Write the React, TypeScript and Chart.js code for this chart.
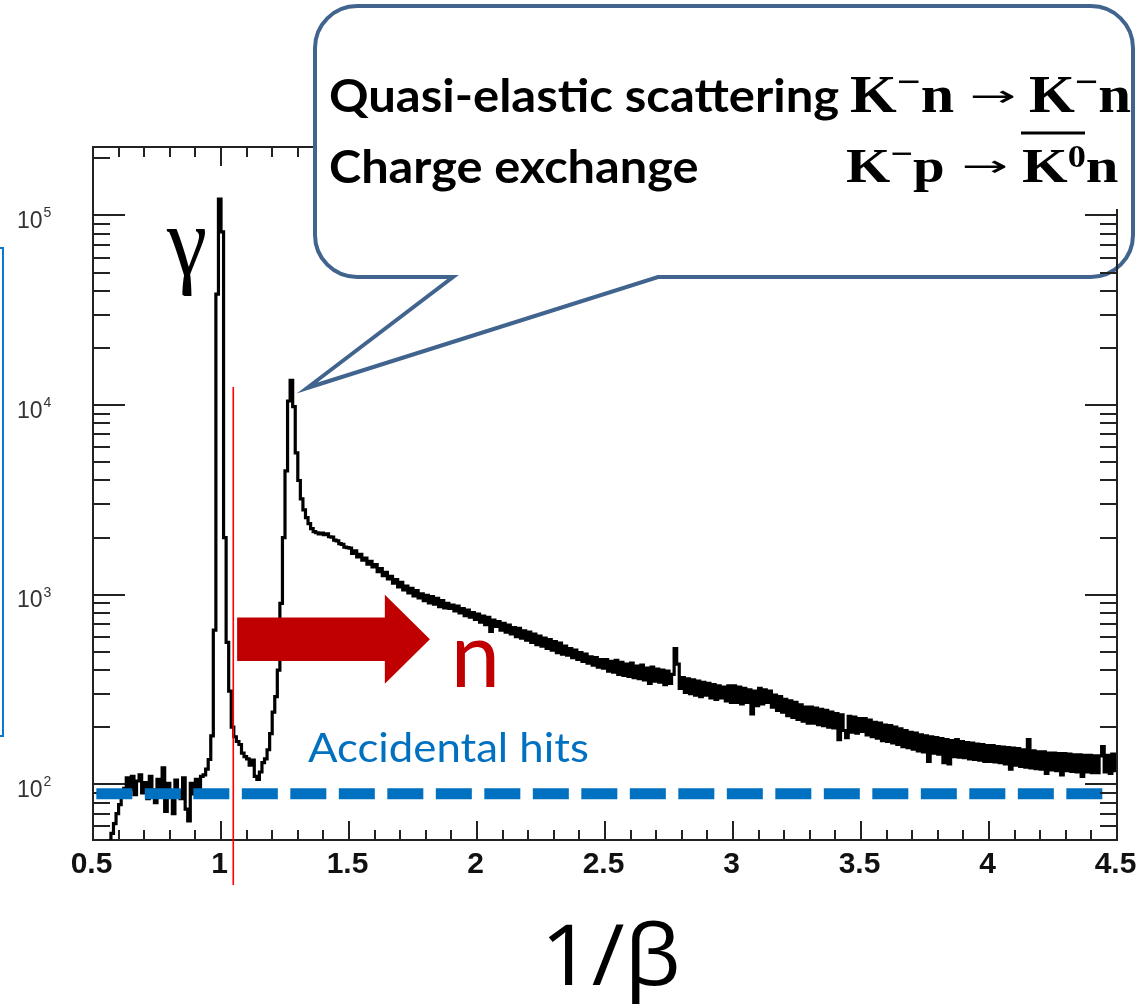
import React, { useEffect, useRef } from "react";
import { Chart, registerables } from "chart.js";

Chart.register(...registerables);

// ---------------- data (histogram of 1/beta, bin width 0.01) ----------------
const BIN_START = 0.5;
const BIN_WIDTH = 0.01;

// 0.50 – 0.99
const counts050 = [
  30, 32, 35, 38, 42, 46, 50, 55, 62, 70,
  78, 86, 95, 108, 94, 110, 88, 104, 112, 90,
  102, 84, 110, 93, 80, 106, 92, 122, 72, 101,
  90, 70, 105, 92, 84, 108, 74, 64, 101, 89,
  106, 94, 110, 112, 120, 135, 180, 650, 38500, 122000,
];
// 1.00 – 1.49
const counts100 = [
  82000, 2000, 560, 310, 200, 178, 168, 162, 146, 140,
  136, 126, 134, 110, 106, 116, 130, 136, 152, 185,
  240, 290, 400, 900, 2000, 4500, 10500, 13500, 9800, 5600,
  4000, 3200, 2800, 2550, 2370, 2230, 2150, 2120, 2090, 2110,
  2070, 2090, 2020, 2010, 1940, 1920, 1860, 1840, 1780, 1770,
];
// 1.50 – 1.99
const counts150 = [
  1760, 1650, 1700, 1580, 1630, 1520, 1560, 1450, 1500, 1400,
  1440, 1320, 1370, 1260, 1310, 1210, 1250, 1150, 1200, 1100,
  1160, 1060, 1110, 1020, 1080, 985, 1050, 960, 1010, 930,
  990, 905, 975, 890, 955, 865, 930, 850, 900, 845,
  880, 820, 870, 800, 845, 775, 830, 760, 805, 740,
];
// 2.00 – 2.49
const counts200 = [
  790, 715, 770, 695, 760, 640, 735, 680, 720, 650,
  705, 635, 690, 620, 670, 600, 665, 590, 645, 575,
  635, 560, 620, 545, 605, 535, 590, 520, 580, 510,
  565, 495, 555, 485, 535, 480, 520, 465, 510, 455,
  495, 445, 485, 435, 470, 425, 465, 415, 455, 410,
];
// 2.50 – 2.99
const counts250 = [
  455, 395, 445, 390, 450, 380, 440, 375, 430, 370,
  435, 365, 420, 360, 425, 355, 410, 340, 415, 350,
  405, 345, 400, 335, 395, 340, 380, 520, 430, 320,
  365, 305, 360, 300, 355, 295, 350, 290, 345, 295,
  340, 285, 335, 280, 330, 285, 325, 275, 330, 270,
];
// 3.00 – 3.49
const counts300 = [
  330, 270, 325, 265, 320, 270, 315, 235, 310, 260,
  320, 265, 315, 270, 310, 255, 295, 245, 290, 240,
  280, 230, 275, 225, 270, 220, 262, 215, 255, 210,
  255, 210, 252, 206, 248, 204, 245, 200, 240, 198,
  236, 172, 232, 192, 176, 228, 188, 226, 186, 222,
];
// 3.50 – 3.99
const counts350 = [
  190, 222, 182, 218, 178, 212, 175, 210, 170, 205,
  168, 204, 165, 200, 162, 196, 158, 192, 156, 188,
  153, 186, 150, 182, 148, 180, 132, 178, 146, 176,
  144, 174, 130, 172, 128, 170, 140, 172, 139, 168,
  138, 166, 136, 165, 135, 163, 134, 162, 132, 160,
];
// 4.00 – 4.49
const counts400 = [
  132, 160, 131, 158, 130, 157, 128, 156, 120, 155,
  126, 154, 124, 152, 123, 172, 122, 150, 121, 148,
  120, 148, 114, 146, 119, 146, 118, 145, 112, 145,
  118, 144, 117, 143, 116, 143, 110, 142, 116, 142,
  115, 141, 115, 141, 158, 116, 142, 114, 144, 118,
];

const X_MIN = 0.5;
const X_MAX = 4.5;
const Y_MIN = 50.8;
const Y_MAX = 229600;

const xMajorTicks = [0.5, 1, 1.5, 2, 2.5, 3, 3.5, 4, 4.5];
const xTickLabels = ["0.5", "1", "1.5", "2", "2.5", "3", "3.5", "4", "4.5"];
const yDecadeExponents = [2, 3, 4, 5];

// annotations (data coordinates)
const accidentalLevel = 89;
const accidentalFrom = 0.513;
const accidentalTo = 4.449;
const cutX = 1.048;
const cutLow = 29.4;
const cutHigh = 12460;
const arrowFrom = 1.063;
const arrowHeadBase = 1.64;
const arrowTip = 1.816;
const arrowLevel = 582;

// ---------------- fonts & helpers ----------------
const SANS = '"Lato", "Open Sans", sans-serif';
const GREEK_SANS = '"Open Sans", "Noto Sans", sans-serif';
const SERIF = '"Liberation Serif", "DejaVu Serif", serif';
const HELV = '"Liberation Sans", Arial, sans-serif';
const AXIS = "#222";

function fitLine(ctx: CanvasRenderingContext2D, text: string, weight: string, family: string,
  left: number, right: number, baseline: number, refH: number, refChar: string, color: string) {
  ctx.font = `${weight} 100px ${family}`;
  const ref = ctx.measureText(refChar).actualBoundingBoxAscent || 70;
  const size = (100 * refH) / ref;
  ctx.font = `${weight} ${size}px ${family}`;
  const m = ctx.measureText(text);
  const ink = m.actualBoundingBoxLeft + m.actualBoundingBoxRight;
  const sx = ink > 0 ? (right - left) / ink : 1;
  ctx.save();
  ctx.fillStyle = color;
  ctx.textAlign = "left";
  ctx.textBaseline = "alphabetic";
  ctx.translate(left, baseline);
  ctx.scale(sx, 1);
  ctx.fillText(text, m.actualBoundingBoxLeft, 0);
  ctx.restore();
}

function fitBox(ctx: CanvasRenderingContext2D, text: string, weight: string, family: string,
  left: number, top: number, right: number, bottom: number, color: string) {
  ctx.font = `${weight} 100px ${family}`;
  const m = ctx.measureText(text);
  const w = m.actualBoundingBoxLeft + m.actualBoundingBoxRight || 50;
  const h = m.actualBoundingBoxAscent + m.actualBoundingBoxDescent || 50;
  ctx.save();
  ctx.fillStyle = color;
  ctx.textAlign = "left";
  ctx.textBaseline = "alphabetic";
  ctx.translate(left, top);
  ctx.scale((right - left) / w, (bottom - top) / h);
  ctx.fillText(text, m.actualBoundingBoxLeft, m.actualBoundingBoxAscent);
  ctx.restore();
}

type Piece = { t: string; sup?: number; scale?: number; weight?: string; family?: string };

function fitRun(ctx: CanvasRenderingContext2D, pieces: Piece[], left: number, right: number,
  baseline: number, capH: number, color: string) {
  ctx.font = `bold 100px ${SERIF}`;
  const kH = ctx.measureText("K").actualBoundingBoxAscent || 66;
  const size = (100 * capH) / kH;
  const fonts = pieces.map((p) => `${p.weight ?? "bold"} ${size * (p.scale ?? 1)}px ${p.family ?? SERIF}`);
  const adv = pieces.map((p, i) => { ctx.font = fonts[i]; return ctx.measureText(p.t).width; });
  ctx.font = fonts[0];
  const m0 = ctx.measureText(pieces[0].t);
  const n = pieces.length - 1;
  ctx.font = fonts[n];
  const mN = ctx.measureText(pieces[n].t);
  const total = adv.reduce((a, b) => a + b, 0);
  const inkStart = -m0.actualBoundingBoxLeft;
  const inkEnd = total - adv[n] + mN.actualBoundingBoxRight;
  const sx = (right - left) / (inkEnd - inkStart);
  ctx.save();
  ctx.fillStyle = color;
  ctx.textAlign = "left";
  ctx.textBaseline = "alphabetic";
  ctx.translate(left, baseline);
  ctx.scale(sx, 1);
  let x = -inkStart;
  pieces.forEach((p, i) => {
    ctx.font = fonts[i];
    ctx.fillText(p.t, x, -(p.sup ?? 0) * size);
    x += adv[i];
  });
  ctx.restore();
}

function yTickList() {
  const out: { v: number; major: boolean }[] = [];
  for (let e = 1; e <= 5; e++) {
    for (let m = 1; m <= 9; m++) {
      const v = m * Math.pow(10, e);
      if (v >= Y_MIN && v <= Y_MAX) out.push({ v, major: m === 1 });
    }
  }
  return out;
}

function line(ctx: CanvasRenderingContext2D, x1: number, y1: number, x2: number, y2: number) {
  ctx.beginPath();
  ctx.moveTo(x1, y1);
  ctx.lineTo(x2, y2);
  ctx.stroke();
}

function drawFrame(chart: any) {
  const ctx: CanvasRenderingContext2D = chart.ctx;
  const { left, right, top, bottom } = chart.chartArea;
  const xs = chart.scales.x;
  const ys = chart.scales.y;
  ctx.save();
  ctx.strokeStyle = AXIS;
  ctx.lineWidth = 2;
  ctx.strokeRect(left, top, right - left, bottom - top);
  for (let k = 0; k <= 40; k++) {
    const u = X_MIN + k * 0.1;
    const px = Math.round(xs.getPixelForValue(u));
    const len = k % 5 === 0 ? 19 : 10;
    line(ctx, px, bottom, px, bottom - len);
    line(ctx, px, top, px, top + len);
  }
  yTickList().forEach(({ v, major }) => {
    const py = Math.round(ys.getPixelForValue(v));
    const len = major ? 32 : 17;
    line(ctx, left, py, left + len, py);
    line(ctx, right, py, right - len, py);
  });
  ctx.restore();
}

function drawRightAxisFrom(chart: any, fromY: number) {
  const ctx: CanvasRenderingContext2D = chart.ctx;
  const { right, bottom } = chart.chartArea;
  const ys = chart.scales.y;
  ctx.save();
  ctx.strokeStyle = AXIS;
  ctx.lineWidth = 2;
  line(ctx, right, fromY, right, bottom);
  yTickList().forEach(({ v, major }) => {
    const py = Math.round(ys.getPixelForValue(v));
    if (py < fromY) return;
    line(ctx, right, py, right - (major ? 32 : 17), py);
  });
  ctx.restore();
}

function drawCallout(ctx: CanvasRenderingContext2D) {
  const L = 315, T = 6, R = 1133, B = 277, r = 42;
  const tailL = 453, tailR = 658, tipX = 307, tipY = 388;
  ctx.save();
  ctx.beginPath();
  ctx.moveTo(L + r, T);
  ctx.lineTo(R - r, T);
  ctx.arcTo(R, T, R, T + r, r);
  ctx.lineTo(R, B - r);
  ctx.arcTo(R, B, R - r, B, r);
  ctx.lineTo(tailR, B);
  ctx.lineTo(tipX, tipY);
  ctx.lineTo(tailL, B);
  ctx.lineTo(L + r, B);
  ctx.arcTo(L, B, L, B - r, r);
  ctx.lineTo(L, T + r);
  ctx.arcTo(L, T, L + r, T, r);
  ctx.closePath();
  ctx.fillStyle = "#ffffff";
  ctx.fill();
  ctx.lineWidth = 4;
  ctx.lineJoin = "miter";
  ctx.strokeStyle = "#41648F";
  ctx.stroke();
  ctx.restore();
}

const overlay = {
  id: "overlay",
  beforeDatasetsDraw(chart: any) {
    drawFrame(chart);
  },
  afterDatasetsDraw(chart: any) {
    const ctx: CanvasRenderingContext2D = chart.ctx;
    const xs = chart.scales.x;
    const ys = chart.scales.y;

    // red arrow towards neutrons
    const x0 = xs.getPixelForValue(arrowFrom);
    const xh = xs.getPixelForValue(arrowHeadBase);
    const xt = xs.getPixelForValue(arrowTip);
    const yc = ys.getPixelForValue(arrowLevel);
    ctx.save();
    ctx.fillStyle = "#C00000";
    ctx.beginPath();
    ctx.moveTo(x0, yc - 21.7);
    ctx.lineTo(xh, yc - 21.7);
    ctx.lineTo(xh, yc - 44.5);
    ctx.lineTo(xt, yc);
    ctx.lineTo(xh, yc + 44.5);
    ctx.lineTo(xh, yc + 21.7);
    ctx.lineTo(x0, yc + 21.7);
    ctx.closePath();
    ctx.fill();
    ctx.restore();

    fitBox(ctx, "n", "normal", SANS, 457, 640, 495, 687, "#C00000");
    fitLine(ctx, "Accidental hits", "normal", SANS, 308, 588, 761.7, 30, "H", "#0070C0");
    fitBox(ctx, "γ", "normal", SERIF, 166, 229.5, 205, 295.5, "#000000");

    // callout
    drawCallout(ctx);
    drawRightAxisFrom(chart, 209);
    fitLine(ctx, "Quasi-elastic scattering", "bold", SANS, 330, 839, 111.7, 33.4, "H", "#000000");
    fitLine(ctx, "Charge exchange", "bold", SANS, 330, 697, 183.3, 33.3, "H", "#000000");
    const minus: Piece = { t: "\u2212", sup: 0.35, scale: 0.7 };
    fitRun(ctx, [{ t: "K" }, minus, { t: "n" }], 850, 954, 112, 34, "#000");
    fitBox(ctx, "\u2192", "normal", '"DejaVu Sans", sans-serif', 972, 90, 1013, 103, "#000");
    fitRun(ctx, [{ t: "K" }, minus, { t: "n" }], 1029, 1131, 112, 34, "#000");
    fitRun(ctx, [{ t: "K" }, minus, { t: "p" }], 846, 943, 182, 32, "#000");
    fitBox(ctx, "\u2192", "normal", '"DejaVu Sans", sans-serif', 964, 160, 1005, 173, "#000");
    fitRun(ctx, [{ t: "K" }, { t: "0", sup: 0.3, scale: 0.62 }, { t: "n" }], 1022, 1118, 182, 32, "#000");
    ctx.save();
    ctx.strokeStyle = "#000";
    ctx.lineWidth = 3;
    line(ctx, 1021, 133, 1085, 133);
    ctx.restore();

    // tick labels
    ctx.save();
    ctx.fillStyle = "#111";
    ctx.font = `bold 30px ${HELV}`;
    ctx.textAlign = "center";
    ctx.textBaseline = "alphabetic";
    xMajorTicks.forEach((u, i) => {
      ctx.fillText(xTickLabels[i], xs.getPixelForValue(u) - 1.5, 873);
    });
    ctx.fillStyle = "#333";
    ctx.textAlign = "left";
    yDecadeExponents.forEach((e) => {
      const py = ys.getPixelForValue(Math.pow(10, e));
      ctx.font = `23px ${HELV}`;
      ctx.fillText("10", 17, py + 12.8);
      ctx.font = `14px ${HELV}`;
      ctx.fillText(String(e), 43.5, py + 2);
    });
    ctx.restore();

    fitLine(ctx, "1/β", "normal", GREEK_SANS, 548, 677, 985, 62, "1", "#000");

    // blue frame edge at left
    ctx.save();
    ctx.strokeStyle = "#0A78D0";
    ctx.lineWidth = 2;
    ctx.strokeRect(-10, 248, 13, 488);
    ctx.restore();
  },
};

export default function App() {
  const ref = useRef<HTMLCanvasElement>(null);
  useEffect(() => {
    const canvas = ref.current;
    if (!canvas) return;
    const allCounts = [
      ...counts050, ...counts100, ...counts150, ...counts200,
      ...counts250, ...counts300, ...counts350, ...counts400,
    ];
    const histPoints = allCounts.map((c, i) => ({ x: +(BIN_START + i * BIN_WIDTH).toFixed(2), y: c }));
    histPoints.push({ x: X_MAX, y: allCounts[allCounts.length - 1] });

    const chart = new Chart(canvas, {
      type: "line",
      data: {
        datasets: [
          {
            label: "Accidental hits",
            data: [
              { x: accidentalFrom, y: accidentalLevel },
              { x: accidentalTo, y: accidentalLevel },
            ],
            borderColor: "#0070C0",
            borderWidth: 11,
            borderDash: [36, 12.5],
            borderCapStyle: "butt",
            pointRadius: 0,
            order: 0,
          },
          {
            label: "cut",
            data: [
              { x: cutX, y: cutHigh },
              { x: cutX, y: cutLow },
            ],
            borderColor: "#FF0000",
            borderWidth: 1.6,
            pointRadius: 0,
            clip: false,
            order: 1,
          },
          {
            label: "1/beta",
            data: histPoints,
            borderColor: "#000000",
            borderWidth: 3.2,
            stepped: true,
            borderJoinStyle: "miter",
            pointRadius: 0,
            fill: false,
            order: 2,
          },
        ],
      } as any,
      options: {
        responsive: false,
        animation: false,
        devicePixelRatio: 1,
        events: [],
        layout: { padding: { left: 93, right: 20, top: 147, bottom: 164 } },
        scales: {
          x: { type: "linear", min: X_MIN, max: X_MAX, display: false },
          y: { type: "logarithmic", min: Y_MIN, max: Y_MAX, display: false },
        },
        plugins: { legend: { display: false }, tooltip: { enabled: false } },
      } as any,
      plugins: [overlay],
    });
    return () => chart.destroy();
  }, []);
  return (
    <div style={{ position: "absolute", left: 0, top: 0, width: 1137, height: 1004, background: "#fff" }}>
      <canvas ref={ref} width={1137} height={1004} style={{ display: "block", width: 1137, height: 1004 }} />
    </div>
  );
}
